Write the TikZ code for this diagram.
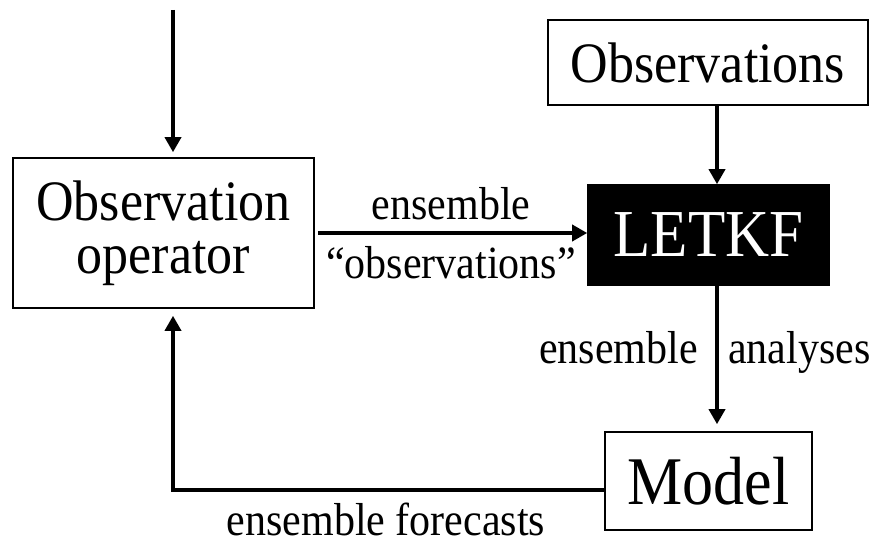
\documentclass[tikz,border=0pt]{standalone}
\usepackage{fontspec}
\setmainfont{Liberation Serif}
\usetikzlibrary{arrows.meta,calc}
\newcommand{\tallt}[1]{\scalebox{1}[1.1]{#1}}
\tikzset{
  boxnode/.style={draw=black, line width=1.6pt, inner sep=0pt, align=center},
  conn/.style={line width=3.5pt, -{Triangle[length=15pt,width=16pt]}},
  lbl/.style={inner sep=0pt, font=\fontsize{42}{46}\selectfont},
  bigtxt/.style={font=\fontsize{52}{57}\selectfont},
}
\begin{document}
\begin{tikzpicture}[x=1pt,y=-1pt]
\useasboundingbox (0,0) rectangle (872,545);
% boxes
\node[boxnode, bigtxt, minimum width=301pt, minimum height=150pt] (obsop) at (163.5,233) {\tallt{Observation}\\[-4pt]\tallt{operator}};
\node[boxnode, bigtxt, minimum width=320pt, minimum height=85pt] (obs) at (708,62.5) {\tallt{Observations}};
\node[boxnode, fill=black, text=white, font=\fontsize{61}{66}\selectfont, minimum width=241pt, minimum height=100pt] (letkf) at (708.5,235) {\tallt{LETKF}};
\node[boxnode, font=\fontsize{62}{66}\selectfont, minimum width=207pt, minimum height=98pt] (model) at (708.5,481) {\tallt{Model}};
% helper coordinates
\coordinate (top) at (173,10);
\coordinate (ax) at (717,0);
\coordinate (fl) at (173,490);
% connectors
\draw[conn, shorten >=5pt] (top) -- (obsop.north -| top);
\draw[conn] (obs.south -| ax) -- (letkf.north -| ax);
\draw[conn, shorten >=7pt] (letkf.south -| ax) -- (model.north -| ax);
\draw[conn, shorten <=3pt] (obsop.east) -- (letkf.west |- obsop.east);
\draw[conn, shorten >=7pt] (model.west |- fl) -- (fl) -- (obsop.south -| fl);
% labels
\node[lbl, anchor=base] (l1) at (451,220) {\tallt{ensemble}};
\node[lbl, anchor=base] (l2) at (451,278) {\tallt{“observations”}};
\node[lbl, anchor=base east] (l3) at (698,363) {\tallt{ensemble}};
\node[lbl, anchor=base west] (l4) at (728,363) {\tallt{analyses}};
\node[lbl, anchor=base] (l5) at (386,535) {\tallt{ensemble forecasts}};
\end{tikzpicture}
\end{document}
